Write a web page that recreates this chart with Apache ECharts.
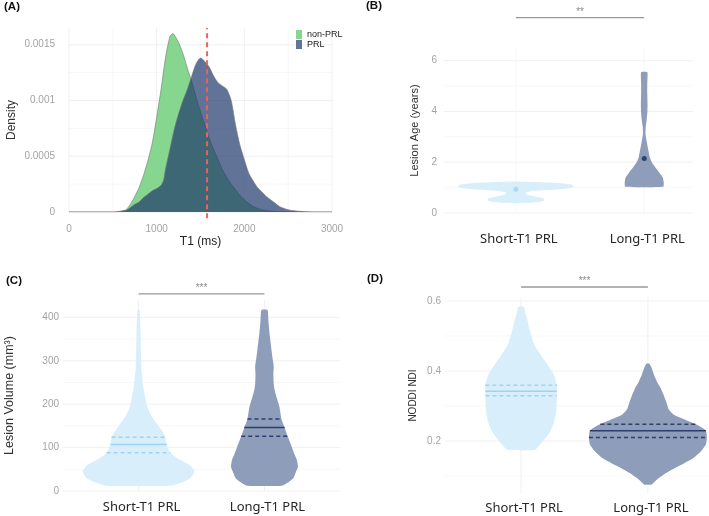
<!DOCTYPE html>
<html>
<head>
<meta charset="utf-8">
<script src="https://cdn.jsdelivr.net/npm/echarts@6/dist/echarts.min.js"></script>
<style>html,body{margin:0;padding:0;background:#fff}#c{width:709px;height:516px}</style>
</head>
<body>
<div id="c"></div>
<script>
// ---------- DATA ----------
const groups = ['Short-T1 PRL', 'Long-T1 PRL'];
const densityNames = ['non-PRL', 'PRL'];

// Panel A: T1 density curves
const nonPrlT1 = [0, 500, 600, 650, 700, 750, 800, 850, 900, 950, 1000, 1050, 1100, 1150, 1185, 1200, 1250, 1300, 1350, 1400, 1450, 1500, 1550, 1600, 1650, 1700, 1750, 1800, 1850, 1900, 1950, 2000, 2100, 2200, 2300, 2400, 2600, 3000];
const nonPrlDensity = [0, 0, 0.000005, 0.00002, 0.00007, 0.00014, 0.00022, 0.00033, 0.00046, 0.00062, 0.00085, 0.00110, 0.00138, 0.00157, 0.00160, 0.00159, 0.00152, 0.00142, 0.00129, 0.00117, 0.00103, 0.00090, 0.00078, 0.00066, 0.00056, 0.00047, 0.00038, 0.00031, 0.00025, 0.00020, 0.00015, 0.00011, 0.00005, 0.00002, 0.000008, 0.000003, 0, 0];
const prlT1 = [0, 500, 550, 600, 650, 700, 750, 800, 850, 900, 950, 1000, 1050, 1080, 1100, 1150, 1200, 1250, 1300, 1350, 1400, 1450, 1500, 1550, 1600, 1650, 1700, 1750, 1800, 1850, 1900, 1950, 2000, 2050, 2100, 2150, 2200, 2250, 2300, 2350, 2400, 2500, 2600, 2700, 2800, 3000];
const prlDensity = [0, 0, 0.000003, 0.00001, 0.000015, 0.00004, 0.00007, 0.00009, 0.00013, 0.00016, 0.00019, 0.00021, 0.00024, 0.00029, 0.00038, 0.00056, 0.00074, 0.00088, 0.00100, 0.00110, 0.00122, 0.00133, 0.00138, 0.00135, 0.00130, 0.00122, 0.00116, 0.00113, 0.00110, 0.00100, 0.00078, 0.00060, 0.00047, 0.00035, 0.00028, 0.00022, 0.00018, 0.00014, 0.00011, 0.00008, 0.00005, 0.00002, 0.000008, 0.000003, 0, 0];
const thresholdT1 = 1575;
const thresholdSpan = [-0.000055, 0.00165];

// Panel B: lesion age violins (value, half-width in category units)
const ageShortY = [0.38, 0.40, 0.43, 0.48, 0.55, 0.62, 0.68, 0.75, 0.82, 0.88, 0.93, 0.98, 1.05, 1.12, 1.18, 1.22, 1.24];
const ageShortW = [0, 0.10, 0.18, 0.22, 0.22, 0.18, 0.12, 0.08, 0.08, 0.14, 0.33, 0.43, 0.45, 0.43, 0.33, 0.15, 0];
const ageLongY = [1.03, 1.2, 1.4, 1.6, 1.8, 2.0, 2.2, 2.5, 2.8, 3.1, 3.4, 3.7, 4.0, 4.3, 4.7, 5.1, 5.55];
const ageLongW = [0.148, 0.152, 0.145, 0.117, 0.086, 0.059, 0.043, 0.031, 0.020, 0.010, 0.012, 0.020, 0.025, 0.026, 0.024, 0.024, 0.024];
const ageMeans = [0.94, 2.15];

// Panel C: lesion volume violins
const volShortY = [12, 20, 30, 45, 58, 70, 80, 90, 108, 124, 140, 157, 172, 187, 200, 217, 235, 250, 286, 330, 364, 400, 417];
const volShortW = [0.254, 0.349, 0.413, 0.444, 0.413, 0.341, 0.286, 0.246, 0.222, 0.214, 0.183, 0.139, 0.103, 0.079, 0.063, 0.053, 0.040, 0.033, 0.022, 0.018, 0.016, 0.012, 0.008];
const volLongY = [12, 20, 30, 41, 56, 71, 85, 101, 127, 147, 166, 194, 217, 235, 249, 270, 286, 305, 325, 345, 364, 390, 417];
const volLongW = [0.139, 0.190, 0.230, 0.246, 0.266, 0.258, 0.238, 0.218, 0.183, 0.159, 0.135, 0.119, 0.095, 0.079, 0.073, 0.071, 0.074, 0.065, 0.056, 0.048, 0.040, 0.032, 0.024];
const volShortLines = [88, 107, 124];
const volLongLines = [126, 146, 166];

// Panel D: NODDI NDI violins
const ndiShortY = [0.175, 0.197, 0.226, 0.254, 0.283, 0.321, 0.359, 0.388, 0.417, 0.445, 0.474, 0.503, 0.541, 0.569, 0.582, 0.585];
const ndiShortW = [0.110, 0.165, 0.228, 0.260, 0.276, 0.281, 0.282, 0.260, 0.210, 0.157, 0.105, 0.079, 0.053, 0.031, 0.026, 0.005];
const ndiLongY = [0.076, 0.09, 0.11, 0.13, 0.15, 0.17, 0.19, 0.21, 0.23, 0.245, 0.26, 0.275, 0.29, 0.31, 0.33, 0.35, 0.37, 0.39, 0.41, 0.421];
const ndiLongW = [0.031, 0.071, 0.150, 0.252, 0.354, 0.417, 0.457, 0.465, 0.457, 0.394, 0.299, 0.205, 0.165, 0.146, 0.126, 0.102, 0.071, 0.047, 0.028, 0.012];
const ndiShortLines = [0.329, 0.342, 0.359];
const ndiLongLines = [0.21, 0.229, 0.248];

// significance
const sigLabels = ['**', '***', '***'];
const sigLevels = [7.7, 454, 0.64];

// ticks
const aXTicks = [0, 1000, 2000, 3000];
const aXMinor = [500, 1500, 2500];
const aYTicks = [0, 0.0005, 0.001, 0.0015];
const aYMinor = [0.00025, 0.00075, 0.00125];
const bYTicks = [0, 2, 4, 6];
const bYMinor = [1, 3, 5];
const cYTicks = [0, 100, 200, 300, 400];
const cYMinor = [50, 150, 250, 350];
const dYTicks = [0.2, 0.4, 0.6];
const dYMinor = [0.1, 0.3, 0.5];
const catPos = [1, 2];

// ---------- STYLE ----------
const C = {
  green: '#86d68f', prlArea: 'rgba(30,55,105,0.7)', prlLegend: '#62749a', outline: '#777777',
  red: '#f0605c', shortFill: '#d8eefb', longFill: '#8d9dba',
  shortLine: '#9fd3f3', longLine: '#2c3e6e', shortMean: '#9dd5f5', longMean: '#17295b',
  major: '#ececec', minor: '#f5f5f5', tick: '#a3a3a3', title: '#333333', sig: '#999999'
};
const tickFont = 'Liberation Sans';

function zip(a, b) { return a.map((v, i) => [v, b[i]]); }
function interp(ys, ws, v) {
  for (let i = 0; i < ys.length - 1; i++) {
    if (v >= ys[i] && v <= ys[i + 1]) { const t = (v - ys[i]) / (ys[i + 1] - ys[i]); return ws[i] + t * (ws[i + 1] - ws[i]); }
  }
  return 0;
}

function gridLineSeries(gi, orient, values, color, ref) {
  return {
    type: 'custom', xAxisIndex: gi, yAxisIndex: gi, z: 0, silent: true, animation: false,
    data: values.map(v => [v]),
    renderItem: function (params, api) {
      const cs = params.coordSys; const v = values[params.dataIndex];
      if (orient === 'h') {
        const p = api.coord([ref, v]);
        return { type: 'line', shape: { x1: cs.x, y1: p[1], x2: cs.x + cs.width, y2: p[1] }, style: { stroke: color, lineWidth: 0.8 } };
      } else {
        const p = api.coord([v, ref]);
        return { type: 'line', shape: { x1: p[0], y1: cs.y, x2: p[0], y2: cs.y + cs.height }, style: { stroke: color, lineWidth: 0.8 } };
      }
    }
  };
}

function violinSeries(gi, center, ys, ws, fill, lines, lineColor) {
  return {
    type: 'custom', xAxisIndex: gi, yAxisIndex: gi, z: 2, silent: true, animation: false,
    data: [[center, ys[0]]],
    renderItem: function (params, api) {
      const pts = [];
      for (let i = 0; i < ys.length; i++) pts.push(api.coord([center - ws[i], ys[i]]));
      for (let i = ys.length - 1; i >= 0; i--) pts.push(api.coord([center + ws[i], ys[i]]));
      const children = [{ type: 'polygon', shape: { points: pts, smooth: 0.15 }, style: { fill: fill } }];
      (lines || []).forEach((q, k) => {
        const w = interp(ys, ws, q);
        const a = api.coord([center - w, q]), b = api.coord([center + w, q]);
        children.push({ type: 'line', shape: { x1: a[0], y1: a[1], x2: b[0], y2: b[1] },
          style: { stroke: lineColor, lineWidth: 1.5, lineDash: k === 1 ? null : [4, 3] } });
      });
      return { type: 'group', children: children };
    }
  };
}

function sigSeries(gi, level, label) {
  return {
    type: 'custom', xAxisIndex: gi, yAxisIndex: gi, z: 3, silent: true, animation: false, clip: false,
    data: [[1.5, level]],
    renderItem: function (params, api) {
      const a = api.coord([catPos[0], level]), b = api.coord([catPos[1], level]);
      return { type: 'group', children: [
        { type: 'line', shape: { x1: a[0], y1: a[1], x2: b[0], y2: b[1] }, style: { stroke: C.sig, lineWidth: 1.3 } },
        { type: 'text', x: (a[0] + b[0]) / 2, y: a[1] - 0.5, style: { text: label, fill: '#8a8a8a', fontSize: 10, fontFamily: tickFont, align: 'center', verticalAlign: 'bottom' } }
      ] };
    }
  };
}

const grids = [
  { left: 69, top: 28, width: 263, height: 184 },
  { left: 444, top: 48, width: 249, height: 165 },
  { left: 63, top: 300, width: 277, height: 191 },
  { left: 445, top: 297.5, width: 279, height: 196 }
].map(g => Object.assign(g, { outerBoundsMode: 'none', containLabel: false }));

const noLine = { show: false };
function yAxis(gi, min, max, ticks, name, gap, margin, nameSize) {
  return {
    type: 'value', gridIndex: gi, min: min, max: max,
    axisLine: noLine, axisTick: noLine, splitLine: noLine,
    axisLabel: { customValues: ticks, color: C.tick, fontSize: 10, fontFamily: tickFont, margin: margin, formatter: v => String(v) },
    name: name, nameLocation: 'middle', nameGap: gap,
    nameTextStyle: { color: C.title, fontSize: nameSize, fontFamily: tickFont }
  };
}
function catXAxis(gi, min, max, margin) {
  return {
    type: 'value', gridIndex: gi, min: min, max: max,
    axisLine: noLine, axisTick: noLine, splitLine: noLine,
    axisLabel: { customValues: catPos, color: '#262626', fontSize: 13, fontFamily: 'Noto Sans', margin: margin,
      padding: [0, 0, 0, 6], formatter: v => groups[Math.round(v) - 1] || '' }
  };
}

const option = {
  animation: false,
  backgroundColor: '#ffffff',
  title: [
    { text: '(A)', left: 4, top: 1 },
    { text: '(B)', left: 366, top: 0 },
    { text: '(C)', left: 6, top: 275 },
    { text: '(D)', left: 367, top: 273 }
  ].map(t => Object.assign(t, { padding: 0, textStyle: { fontSize: 11.5, fontWeight: 'bold', color: '#111', fontFamily: tickFont } })),
  legend: {
    data: densityNames, orient: 'vertical', left: 296, top: 30, icon: 'rect', itemWidth: 6, itemHeight: 9, itemGap: 1,
    padding: 0, textStyle: { fontSize: 9, color: '#222', fontFamily: tickFont }
  },
  grid: grids,
  xAxis: [
    { type: 'value', gridIndex: 0, min: 0, max: 3000, interval: 1000,
      axisLine: noLine, axisTick: noLine, splitLine: noLine,
      axisLabel: { color: C.tick, fontSize: 10, fontFamily: tickFont, margin: 12, formatter: v => String(v) },
      name: 'T1 (ms)', nameLocation: 'middle', nameGap: 24,
      nameTextStyle: { color: '#222', fontSize: 12, fontFamily: tickFont } },
    catXAxis(1, 0.44, 2.38, 20),
    catXAxis(2, 0.4, 2.6, 10),
    catXAxis(3, 0.4, 2.6, 8)
  ],
  yAxis: [
    yAxis(0, 0, 0.00165, aYTicks, 'Density', 51, 14, 12),
    yAxis(1, 0, 6.5, bYTicks, 'Lesion Age (years)', 24, 7, 11),
    yAxis(2, 0, 440, cYTicks, 'Lesion Volume (mm³)', 47, 4, 12.5),
    yAxis(3, 0.05, 0.61, dYTicks, 'NODDI NDI', 27, 4, 10)
  ],
  series: [
    // gridlines
    gridLineSeries(0, 'h', aYMinor, C.minor, 0), gridLineSeries(0, 'v', aXMinor, C.minor, 0),
    gridLineSeries(0, 'h', aYTicks, C.major, 0), gridLineSeries(0, 'v', aXTicks, C.major, 0),
    gridLineSeries(1, 'h', bYMinor, C.minor, 1), gridLineSeries(1, 'h', bYTicks, C.major, 1), gridLineSeries(1, 'v', catPos, C.minor, 1),
    gridLineSeries(2, 'h', cYMinor, C.minor, 1), gridLineSeries(2, 'h', cYTicks, C.major, 1), gridLineSeries(2, 'v', catPos, C.major, 100),
    gridLineSeries(3, 'h', dYMinor, C.minor, 1), gridLineSeries(3, 'h', dYTicks, C.major, 1), gridLineSeries(3, 'v', catPos, C.major, 0.3),
    // panel A
    { name: densityNames[0], type: 'line', xAxisIndex: 0, yAxisIndex: 0, z: 2, smooth: 0.25, showSymbol: false, symbol: 'none',
      data: zip(nonPrlT1, nonPrlDensity), itemStyle: { color: C.green },
      lineStyle: { color: C.outline, width: 0.6 }, areaStyle: { color: C.green, opacity: 1 } },
    { name: densityNames[1], type: 'line', xAxisIndex: 0, yAxisIndex: 0, z: 3, smooth: 0.25, showSymbol: false, symbol: 'none',
      data: zip(prlT1, prlDensity), itemStyle: { color: C.prlLegend },
      lineStyle: { color: C.outline, width: 0.6 }, areaStyle: { color: C.prlArea, opacity: 1 } },
    { type: 'custom', xAxisIndex: 0, yAxisIndex: 0, z: 4, silent: true, clip: false,
      data: [[thresholdT1, thresholdSpan[1]]],
      renderItem: function (params, api) {
        const a = api.coord([thresholdT1, thresholdSpan[0]]), b = api.coord([thresholdT1, thresholdSpan[1]]);
        return { type: 'line', shape: { x1: a[0], y1: a[1], x2: b[0], y2: b[1] },
          style: { stroke: C.red, lineWidth: 2, lineDash: [5, 4] } };
      } },
    // panel B
    violinSeries(1, catPos[0], ageShortY, ageShortW, C.shortFill, [], C.shortLine),
    violinSeries(1, catPos[1], ageLongY, ageLongW, C.longFill, [], C.longLine),
    { type: 'scatter', xAxisIndex: 1, yAxisIndex: 1, z: 4, symbolSize: 5, silent: true,
      data: [
        { value: [catPos[0], ageMeans[0]], itemStyle: { color: C.shortMean } },
        { value: [catPos[1], ageMeans[1]], itemStyle: { color: C.longMean } }
      ] },
    sigSeries(1, sigLevels[0], sigLabels[0]),
    // panel C
    violinSeries(2, catPos[0], volShortY, volShortW, C.shortFill, volShortLines, C.shortLine),
    violinSeries(2, catPos[1], volLongY, volLongW, C.longFill, volLongLines, C.longLine),
    sigSeries(2, sigLevels[1], sigLabels[1]),
    // panel D
    violinSeries(3, catPos[0], ndiShortY, ndiShortW, C.shortFill, ndiShortLines, C.shortLine),
    violinSeries(3, catPos[1], ndiLongY, ndiLongW, C.longFill, ndiLongLines, C.longLine),
    sigSeries(3, sigLevels[2], sigLabels[2])
  ]
};

const chart = echarts.init(document.getElementById('c'), null, { renderer: 'canvas' });
chart.setOption(option);
</script>
</body>
</html>
